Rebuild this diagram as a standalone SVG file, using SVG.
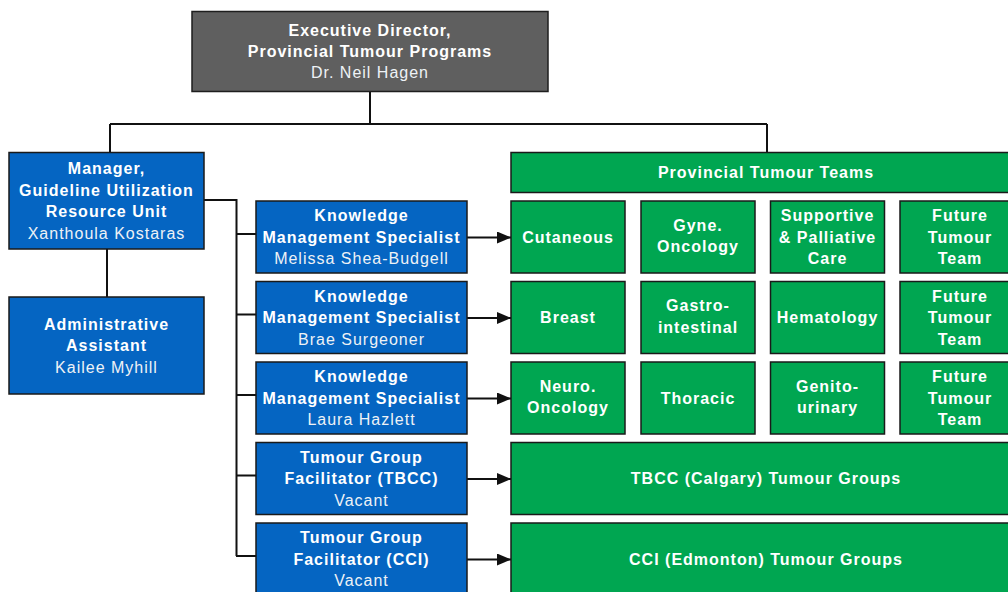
<svg xmlns="http://www.w3.org/2000/svg" width="1008" height="592" viewBox="0 0 1008 592">
<defs>
<style>
.exec{fill:#5f5f5f;stroke:#1e1e1e;stroke-width:1.5}
.blue{fill:#0565c2;stroke:#1a1a1a;stroke-width:1.5}
.green{fill:#00a651;stroke:#1a1a1a;stroke-width:1.5}
text{font-family:"Liberation Sans",Arial,sans-serif;font-size:16px;letter-spacing:1px;text-anchor:middle;fill:#ffffff}
.b{font-weight:bold}
.n{fill:#eef2f6}
.ln{fill:none;stroke:#111;stroke-width:2}
</style>
<marker id="ah" markerUnits="userSpaceOnUse" markerWidth="15" markerHeight="13" refX="14" refY="6" orient="auto">
<path d="M0,0 L14,6 L0,12 z" fill="#111"/>
</marker>
</defs>
<rect width="1008" height="592" fill="#ffffff"/>

<g id="connectors">
<path class="ln" d="M370 92 V124 M110 124 H767 M110 124 V152 M767 124 V152"/>
<path class="ln" d="M107 249 V297"/>
<path class="ln" d="M204 200 H236.5 V556" stroke-width="2.5"/>
<path class="ln" d="M236 234 H256 M236 314.5 H256 M236 395 H256 M236 475.5 H256 M236 556 H256"/>
<path class="ln" d="M467 237.5 H511" marker-end="url(#ah)"/>
<path class="ln" d="M467 318 H511" marker-end="url(#ah)"/>
<path class="ln" d="M467 398.5 H511" marker-end="url(#ah)"/>
<path class="ln" d="M467 479 H511" marker-end="url(#ah)"/>
<path class="ln" d="M467 559.5 H511" marker-end="url(#ah)"/>
</g>

<g id="exec">
<rect class="exec" x="192" y="11.5" width="356" height="80"/>
<text class="b" x="370" y="36">Executive Director,</text>
<text class="b" x="370" y="56.5">Provincial Tumour Programs</text>
<text class="n" x="370" y="78">Dr. Neil Hagen</text>
</g>

<g id="manager">
<rect class="blue" x="9" y="152.5" width="195" height="96.5"/>
<text class="b" x="106.5" y="174">Manager,</text>
<text class="b" x="106.5" y="195.5">Guideline Utilization</text>
<text class="b" x="106.5" y="216.5">Resource Unit</text>
<text class="n" x="106.5" y="238.5">Xanthoula Kostaras</text>
</g>

<g id="admin">
<rect class="blue" x="9" y="297" width="195" height="97"/>
<text class="b" x="106.5" y="330">Administrative</text>
<text class="b" x="106.5" y="351">Assistant</text>
<text class="n" x="106.5" y="372.5">Kailee Myhill</text>
</g>

<g id="km1">
<rect class="blue" x="256" y="201" width="211" height="72"/>
<text class="b" x="361.5" y="221">Knowledge</text>
<text class="b" x="361.5" y="242.5">Management Specialist</text>
<text class="n" x="361.5" y="264">Melissa Shea-Budgell</text>
</g>
<g id="km2">
<rect class="blue" x="256" y="281.5" width="211" height="72"/>
<text class="b" x="361.5" y="301.5">Knowledge</text>
<text class="b" x="361.5" y="323">Management Specialist</text>
<text class="n" x="361.5" y="344.5">Brae Surgeoner</text>
</g>
<g id="km3">
<rect class="blue" x="256" y="362" width="211" height="72"/>
<text class="b" x="361.5" y="382">Knowledge</text>
<text class="b" x="361.5" y="403.5">Management Specialist</text>
<text class="n" x="361.5" y="425">Laura Hazlett</text>
</g>
<g id="tgf-tbcc">
<rect class="blue" x="256" y="442.5" width="211" height="72"/>
<text class="b" x="361.5" y="462.5">Tumour Group</text>
<text class="b" x="361.5" y="484">Facilitator (TBCC)</text>
<text class="n" x="361.5" y="505.5">Vacant</text>
</g>
<g id="tgf-cci">
<rect class="blue" x="256" y="523" width="211" height="80"/>
<text class="b" x="361.5" y="543">Tumour Group</text>
<text class="b" x="361.5" y="564.5">Facilitator (CCI)</text>
<text class="n" x="361.5" y="586">Vacant</text>
</g>

<g id="ptt">
<rect class="green" x="511" y="152.5" width="510" height="40"/>
<text class="b" x="766" y="177.5">Provincial Tumour Teams</text>
</g>

<g id="cutaneous">
<rect class="green" x="511" y="201" width="114" height="72"/>
<text class="b" x="568" y="242.5">Cutaneous</text>
</g>
<g id="gyne">
<rect class="green" x="641" y="201" width="114" height="72"/>
<text class="b" x="698" y="230.5">Gyne.</text>
<text class="b" x="698" y="252">Oncology</text>
</g>
<g id="supportive">
<rect class="green" x="770.5" y="201" width="114" height="72"/>
<text class="b" x="827.5" y="221">Supportive</text>
<text class="b" x="827.5" y="242.5">&amp; Palliative</text>
<text class="b" x="827.5" y="264">Care</text>
</g>
<g id="future1">
<rect class="green" x="900" y="201" width="118" height="72"/>
<text class="b" x="960" y="221">Future</text>
<text class="b" x="960" y="242.5">Tumour</text>
<text class="b" x="960" y="264">Team</text>
</g>

<g id="breast">
<rect class="green" x="511" y="281.5" width="114" height="72"/>
<text class="b" x="568" y="323">Breast</text>
</g>
<g id="gastro">
<rect class="green" x="641" y="281.5" width="114" height="72"/>
<text class="b" x="698" y="311">Gastro-</text>
<text class="b" x="698" y="332.5">intestinal</text>
</g>
<g id="hematology">
<rect class="green" x="770.5" y="281.5" width="114" height="72"/>
<text class="b" x="827.5" y="323">Hematology</text>
</g>
<g id="future2">
<rect class="green" x="900" y="281.5" width="118" height="72"/>
<text class="b" x="960" y="301.5">Future</text>
<text class="b" x="960" y="323">Tumour</text>
<text class="b" x="960" y="344.5">Team</text>
</g>

<g id="neuro">
<rect class="green" x="511" y="362" width="114" height="72"/>
<text class="b" x="568" y="391.5">Neuro.</text>
<text class="b" x="568" y="413">Oncology</text>
</g>
<g id="thoracic">
<rect class="green" x="641" y="362" width="114" height="72"/>
<text class="b" x="698" y="403.5">Thoracic</text>
</g>
<g id="genito">
<rect class="green" x="770.5" y="362" width="114" height="72"/>
<text class="b" x="827.5" y="391.5">Genito-</text>
<text class="b" x="827.5" y="413">urinary</text>
</g>
<g id="future3">
<rect class="green" x="900" y="362" width="118" height="72"/>
<text class="b" x="960" y="382">Future</text>
<text class="b" x="960" y="403.5">Tumour</text>
<text class="b" x="960" y="425">Team</text>
</g>

<g id="tbcc-groups">
<rect class="green" x="511" y="442.5" width="510" height="72"/>
<text class="b" x="766" y="484">TBCC (Calgary) Tumour Groups</text>
</g>
<g id="cci-groups">
<rect class="green" x="511" y="523" width="510" height="80"/>
<text class="b" x="766" y="564.5">CCI (Edmonton) Tumour Groups</text>
</g>
</svg>
